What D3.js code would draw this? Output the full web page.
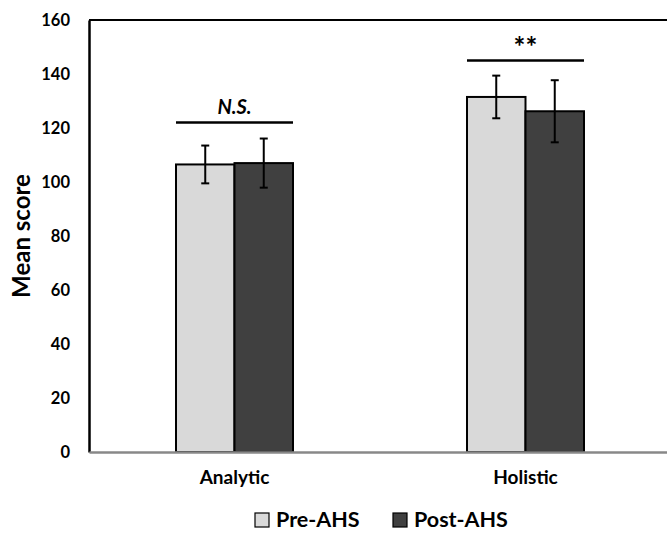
<!DOCTYPE html>
<html>
<head>
<meta charset="utf-8">
<script src="https://cdn.jsdelivr.net/npm/d3@7"></script>
<style>
  body { margin: 0; background: #fff; }
  text { font-family: Lato, "Open Sans", sans-serif; font-weight: bold; fill: #000; }
</style>
</head>
<body>
<div id="chart"></div>
<script>
// chart values
const categories = ["Analytic", "Holistic"];
const series = ["Pre-AHS", "Post-AHS"];
const means = [[106.5, 107.0], [131.5, 126.2]];
const errors = [[7.0, 9.1], [7.9, 11.5]];
const yTicks = [0, 20, 40, 60, 80, 100, 120, 140, 160];
const sigLabels = ["N.S.", "**"];
const sigLevels = [122, 145];
const colors = ["#d9d9d9", "#404040"];

const W = 667, H = 534;
const margin = {top: 20, left: 89, bottom: 82};

const svg = d3.select("#chart").append("svg")
    .attr("width", W)
    .attr("height", H);

const y = d3.scaleLinear()
    .domain([0, 160])
    .range([H - margin.bottom, margin.top]);

const x0 = d3.scaleBand()
    .domain(categories)
    .range([margin.left, 671]);

const barW = 58.5;
const x1 = d3.scaleBand()
    .domain(series)
    .range([-barW, barW]);

// frame: top line + left axis
svg.append("line")
    .attr("x1", margin.left).attr("x2", W)
    .attr("y1", y(160)).attr("y2", y(160))
    .attr("stroke", "#000").attr("stroke-width", 2);

const yAxis = d3.axisLeft(y).tickValues(yTicks).tickSize(0).tickPadding(19);
const yG = svg.append("g")
    .attr("transform", `translate(${margin.left},0)`)
    .call(yAxis);
yG.select(".domain").attr("stroke", "#000").attr("stroke-width", 2.5);
yG.selectAll("text")
    .attr("font-size", 16.5);

svg.append("text")
    .attr("transform", `translate(30,${(y(0) + y(160)) / 2}) rotate(-90)`)
    .attr("text-anchor", "middle")
    .attr("font-size", 24)
    .text("Mean score");

// bars
const groups = svg.selectAll(".grp")
    .data(categories)
    .enter().append("g")
    .attr("class", "grp")
    .attr("transform", d => `translate(${x0(d) + x0.bandwidth() / 2},0)`);

groups.selectAll("rect")
    .data((d, i) => series.map((s, j) => ({s: s, j: j, v: means[i][j], e: errors[i][j]})))
    .enter().append("rect")
    .attr("x", d => x1(d.s))
    .attr("width", x1.bandwidth())
    .attr("y", d => y(d.v))
    .attr("height", d => y(0) - y(d.v))
    .attr("fill", d => colors[d.j])
    .attr("stroke", "#000")
    .attr("stroke-width", 2);

// error bars
const err = groups.selectAll(".err")
    .data((d, i) => series.map((s, j) => ({s: s, v: means[i][j], e: errors[i][j]})))
    .enter().append("g")
    .attr("class", "err")
    .attr("transform", d => `translate(${x1(d.s) + x1.bandwidth() / 2},0)`);

err.append("line")
    .attr("y1", d => y(d.v + d.e)).attr("y2", d => y(d.v - d.e))
    .attr("stroke", "#000").attr("stroke-width", 2);
err.selectAll(".cap")
    .data(d => [d.v + d.e, d.v - d.e])
    .enter().append("line")
    .attr("x1", -4).attr("x2", 4)
    .attr("y1", v => y(v)).attr("y2", v => y(v))
    .attr("stroke", "#000").attr("stroke-width", 2);

// significance markers
groups.append("line")
    .attr("x1", -barW).attr("x2", barW)
    .attr("y1", (d, i) => y(sigLevels[i])).attr("y2", (d, i) => y(sigLevels[i]))
    .attr("stroke", "#000").attr("stroke-width", 2.5);
groups.append("text")
    .attr("text-anchor", "middle")
    .attr("y", (d, i) => y(sigLevels[i]) - (i === 0 ? 9 : 4))
    .attr("font-size", (d, i) => i === 0 ? 20 : 28)
    .attr("font-style", (d, i) => i === 0 ? "italic" : "normal")
    .text((d, i) => sigLabels[i]);

// bottom axis
const xAxis = d3.axisBottom(x0).tickSize(0).tickPadding(19);
const xG = svg.append("g")
    .attr("transform", `translate(0,${y(0)})`)
    .call(xAxis);
xG.select(".domain").attr("stroke", "#888").attr("stroke-width", 2.5);
xG.selectAll("text")
    .attr("font-size", 19);

// legend
const legendX = [255, 393];
const leg = svg.selectAll(".leg")
    .data(series)
    .enter().append("g")
    .attr("class", "leg")
    .attr("transform", (d, i) => `translate(${legendX[i]},513)`);
leg.append("rect")
    .attr("width", 14).attr("height", 14)
    .attr("fill", (d, i) => colors[i])
    .attr("stroke", "#000").attr("stroke-width", 1.2);
leg.append("text")
    .attr("x", 21).attr("y", 14)
    .attr("font-size", 21.5)
    .text(d => d);
</script>
</body>
</html>
